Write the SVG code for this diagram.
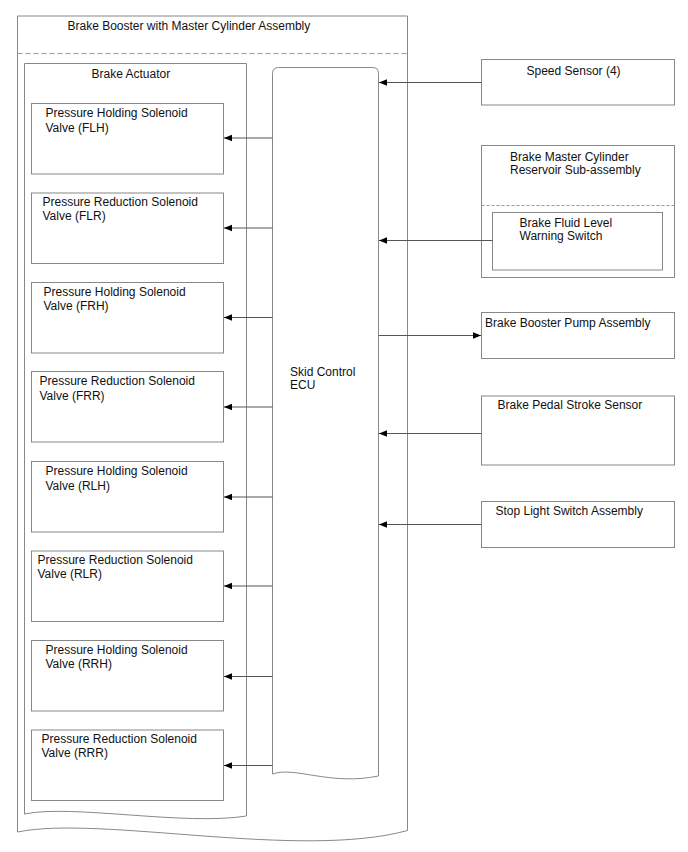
<svg xmlns="http://www.w3.org/2000/svg" width="688" height="852" viewBox="0 0 688 852">
<style>
.box{fill:#fff;stroke:#888;stroke-width:1}
.dash{fill:none;stroke:#999;stroke-width:1;stroke-dasharray:5,3}
.dash2{fill:none;stroke:#999;stroke-width:1;stroke-dasharray:3,2}
.con{fill:none;stroke:#555;stroke-width:1}
text{font-family:"Liberation Sans",Arial,sans-serif;font-size:12px;fill:#111}
</style>
<defs>
<marker id="arr" markerUnits="userSpaceOnUse" markerWidth="10" markerHeight="8" refX="8" refY="4" orient="auto">
<path d="M0,0.8 L8,4 L0,7.2 Z" fill="#000"/>
</marker>
</defs>
<rect width="688" height="852" fill="#fff"/>
<g id="booster">
<path class="box" d="M17.5,16 H407.5 V830.5 C300,860 100,815 17.5,832 Z"/>
<line class="dash" x1="17.5" y1="53.5" x2="407.5" y2="53.5"/>
<text x="67.5" y="29.5">Brake Booster with Master Cylinder Assembly</text>
</g>
<g id="actuator">
<path class="box" d="M24.5,63.5 H246.5 V816 C185,826 71.5,804 24.5,814 Z"/>
<text x="91.5" y="77.5">Brake Actuator</text>
</g>
<g id="ecu">
<path class="box" d="M272.5,774 V73.5 Q272.5,67.5 278.5,67.5 H372.5 Q378.5,67.5 378.5,73.5 V776 C330,786 295,766 272.5,774 Z"/>
<text x="290" y="375.5">Skid Control</text>
<text x="290" y="389">ECU</text>
</g>
<g id="flh"><rect class="box" x="31.5" y="103.5" width="192" height="70.5"/><text x="45.5" y="117">Pressure Holding Solenoid</text><text x="45.5" y="131.5">Valve (FLH)</text></g>
<g id="flr"><rect class="box" x="31.5" y="193" width="192" height="70.5"/><text x="42.5" y="205.5">Pressure Reduction Solenoid</text><text x="42.5" y="220">Valve (FLR)</text></g>
<g id="frh"><rect class="box" x="31.5" y="282.5" width="192" height="70.5"/><text x="43.5" y="296">Pressure Holding Solenoid</text><text x="43.5" y="310">Valve (FRH)</text></g>
<g id="frr"><rect class="box" x="31.5" y="371.5" width="192" height="70.5"/><text x="39.5" y="385">Pressure Reduction Solenoid</text><text x="39.5" y="399.5">Valve (FRR)</text></g>
<g id="rlh"><rect class="box" x="31.5" y="461.5" width="192" height="70.5"/><text x="45.5" y="475">Pressure Holding Solenoid</text><text x="45.5" y="489.5">Valve (RLH)</text></g>
<g id="rlr"><rect class="box" x="31.5" y="551" width="192" height="70.5"/><text x="37.5" y="563.5">Pressure Reduction Solenoid</text><text x="37.5" y="578">Valve (RLR)</text></g>
<g id="rrh"><rect class="box" x="31.5" y="640.5" width="192" height="70.5"/><text x="45.5" y="654">Pressure Holding Solenoid</text><text x="45.5" y="668">Valve (RRH)</text></g>
<g id="rrr"><rect class="box" x="31.5" y="730" width="192" height="70.5"/><text x="41.5" y="743">Pressure Reduction Solenoid</text><text x="41.5" y="757">Valve (RRR)</text></g>
<g id="speed"><rect class="box" x="481.5" y="59.5" width="193" height="45.5"/><text x="526.5" y="75">Speed Sensor (4)</text></g>
<g id="reservoir">
<rect class="box" x="481.5" y="145.5" width="193" height="132"/>
<line class="dash2" x1="481.5" y1="205.5" x2="674.5" y2="205.5"/>
<text x="510" y="161">Brake Master Cylinder</text>
<text x="510" y="174">Reservoir Sub-assembly</text>
</g>
<g id="fluid"><rect class="box" x="492.5" y="212.5" width="170" height="57.5"/><text x="519.5" y="226.5">Brake Fluid Level</text><text x="519.5" y="240">Warning Switch</text></g>
<g id="pump"><rect class="box" x="481.5" y="312.5" width="193" height="46"/><text x="485" y="326.5">Brake Booster Pump Assembly</text></g>
<g id="pedal"><rect class="box" x="481.5" y="396" width="193" height="69"/><text x="497.5" y="408.5">Brake Pedal Stroke Sensor</text></g>
<g id="stop"><rect class="box" x="481.5" y="501.5" width="193" height="46"/><text x="495.5" y="514.5">Stop Light Switch Assembly</text></g>
<g id="connectors">
<line class="con" x1="272.5" y1="138" x2="224" y2="138" marker-end="url(#arr)"/>
<line class="con" x1="272.5" y1="228" x2="224" y2="228" marker-end="url(#arr)"/>
<line class="con" x1="272.5" y1="317.5" x2="224" y2="317.5" marker-end="url(#arr)"/>
<line class="con" x1="272.5" y1="407" x2="224" y2="407" marker-end="url(#arr)"/>
<line class="con" x1="272.5" y1="497" x2="224" y2="497" marker-end="url(#arr)"/>
<line class="con" x1="272.5" y1="586" x2="224" y2="586" marker-end="url(#arr)"/>
<line class="con" x1="272.5" y1="676.5" x2="224" y2="676.5" marker-end="url(#arr)"/>
<line class="con" x1="272.5" y1="765.5" x2="224" y2="765.5" marker-end="url(#arr)"/>
<line class="con" x1="481.5" y1="82.5" x2="379" y2="82.5" marker-end="url(#arr)"/>
<line class="con" x1="492.5" y1="240.5" x2="379" y2="240.5" marker-end="url(#arr)"/>
<line class="con" x1="378.5" y1="335.5" x2="481" y2="335.5" marker-end="url(#arr)"/>
<line class="con" x1="481.5" y1="433.5" x2="379" y2="433.5" marker-end="url(#arr)"/>
<line class="con" x1="481.5" y1="524.5" x2="379" y2="524.5" marker-end="url(#arr)"/>
</g>
</svg>
